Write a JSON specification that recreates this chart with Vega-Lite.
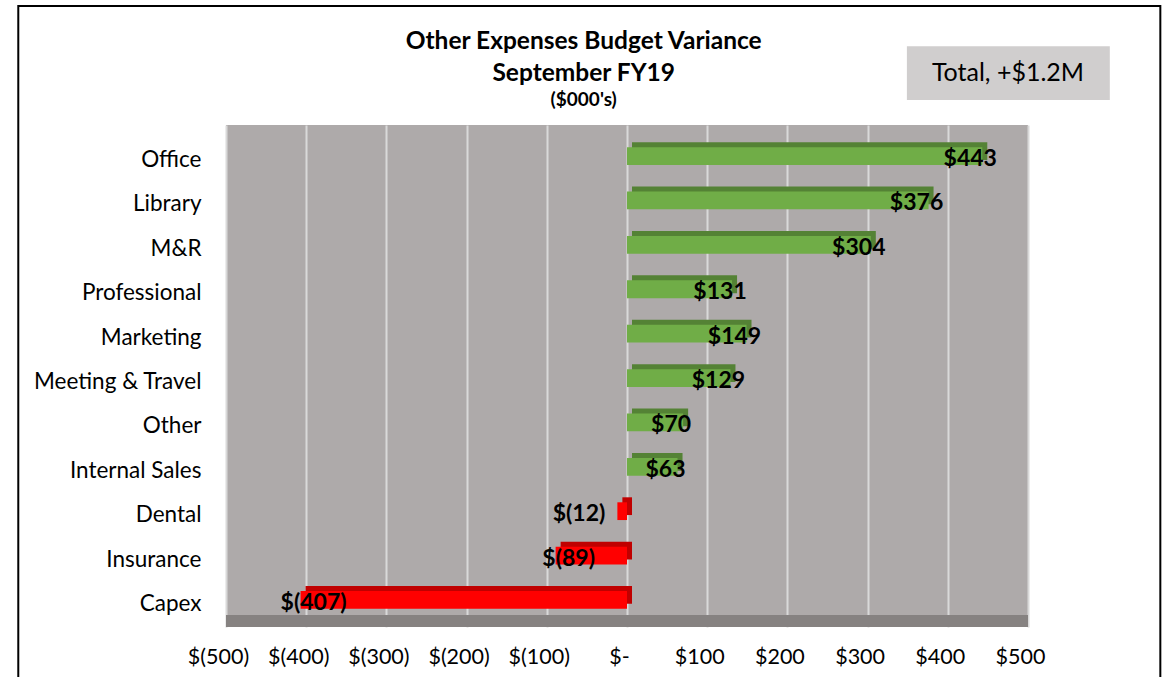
{
  "$schema": "https://vega.github.io/schema/vega-lite/v6.json",
  "width": 802,
  "height": 502,
  "autosize": {"type": "none"},
  "padding": {"left": 226, "top": 125, "right": 143, "bottom": 50},
  "background": "white",
  "config": {"view": {"fill": "#AEAAAA", "stroke": null}, "font": "Lato"},
  "datasets": {
    "bars": [
      {"category": "Office", "value": 443},
      {"category": "Library", "value": 376},
      {"category": "M&R", "value": 304},
      {"category": "Professional", "value": 131},
      {"category": "Marketing", "value": 149},
      {"category": "Meeting & Travel", "value": 129},
      {"category": "Other", "value": 70},
      {"category": "Internal Sales", "value": 63},
      {"category": "Dental", "value": -12},
      {"category": "Insurance", "value": -89},
      {"category": "Capex", "value": -407}
    ]
  },
  "layer": [
    {
      "data": {"values": [{}]},
      "mark": {"type": "rect", "color": "#868281"},
      "encoding": {
        "x": {"datum": -500, "type": "quantitative"},
        "x2": {"datum": 500},
        "y": {"datum": 0, "type": "quantitative", "scale": {"domain": [0, 1], "nice": false}, "axis": null},
        "y2": {"datum": 0.024}
      }
    },
    {
      "data": {"name": "bars"},
      "encoding": {
        "y": {
          "field": "category",
          "type": "nominal",
          "sort": null,
          "scale": {"paddingInner": 0.6, "paddingOuter": 0.455, "align": 0.55},
          "axis": {
            "title": null,
            "domain": false,
            "ticks": false,
            "grid": false,
            "labelFont": "Lato",
            "labelFontSize": 22.5,
            "labelColor": "black",
            "labelPadding": 25,
            "labelOffset": 4
          }
        }
      },
      "layer": [
        {
          "mark": {"type": "bar", "xOffset": 5, "yOffset": -5},
          "encoding": {
            "x": {
              "field": "value",
              "type": "quantitative",
              "scale": {"domain": [-500, 500], "nice": false},
              "axis": {
                "title": null,
                "values": [-500, -400, -300, -200, -100, 0, 100, 200, 300, 400, 500],
                "labelExpr": "datum.value < 0 ? '$(' + abs(datum.value) + ')' : (datum.value == 0 ? '$-' : '$' + datum.value)",
                "domain": false,
                "ticks": false,
                "grid": true,
                "gridColor": "#D9D9D9",
                "gridWidth": 2,
                "labelFont": "Lato",
                "labelFontSize": 21.5,
                "labelColor": "black",
                "labelPadding": 19,
                "labelOffset": -8,
                "labelFlush": false
              }
            },
            "color": {"condition": {"test": "datum.value < 0", "value": "#C00000"}, "value": "#548235"}
          }
        },
        {
          "mark": {"type": "bar"},
          "encoding": {
            "x": {"field": "value", "type": "quantitative"},
            "color": {"condition": {"test": "datum.value < 0", "value": "#FF0000"}, "value": "#70AD47"}
          }
        },
        {
          "transform": [{"filter": "datum.value > 0"}, {"calculate": "'$' + datum.value", "as": "label"}],
          "mark": {"type": "text", "fontSize": 23, "fontWeight": "bold", "font": "Lato", "color": "black", "align": "center", "baseline": "middle", "dx": -12, "dy": 3},
          "encoding": {
            "x": {"field": "value", "type": "quantitative"},
            "text": {"field": "label"}
          }
        },
        {
          "transform": [{"filter": "datum.value < -50"}, {"calculate": "'$(' + abs(datum.value) + ')'", "as": "label"}],
          "mark": {"type": "text", "fontSize": 23, "fontWeight": "bold", "font": "Lato", "color": "black", "align": "center", "baseline": "middle", "dx": 13, "dy": 3},
          "encoding": {
            "x": {"field": "value", "type": "quantitative"},
            "text": {"field": "label"}
          }
        },
        {
          "transform": [{"filter": "datum.value < 0 && datum.value >= -50"}, {"calculate": "'$(' + abs(datum.value) + ')'", "as": "label"}],
          "mark": {"type": "text", "fontSize": 23, "fontWeight": "bold", "font": "Lato", "color": "black", "align": "right", "baseline": "middle", "dx": -12, "dy": 3},
          "encoding": {
            "x": {"field": "value", "type": "quantitative"},
            "text": {"field": "label"}
          }
        }
      ]
    },
    {
      "data": {"values": [{}]},
      "mark": {"type": "rect", "color": "#D0CECE"},
      "encoding": {
        "x": {"datum": 349, "type": "quantitative"},
        "x2": {"datum": 602},
        "y": {"datum": 1.05, "type": "quantitative", "scale": {"domain": [0, 1], "nice": false}, "axis": null},
        "y2": {"datum": 1.157}
      }
    },
    {
      "data": {"values": [{"label": "Total, +$1.2M"}]},
      "mark": {"type": "text", "fontSize": 25, "font": "Lato", "color": "black", "align": "center", "baseline": "middle"},
      "encoding": {
        "x": {"datum": 475, "type": "quantitative"},
        "y": {"datum": 1.104, "type": "quantitative", "scale": {"domain": [0, 1], "nice": false}, "axis": null},
        "text": {"field": "label"}
      }
    },
    {
      "data": {"values": [{"label": "Other Expenses Budget Variance"}]},
      "mark": {"type": "text", "fontSize": 24.5, "fontWeight": "bold", "font": "Lato", "color": "black", "align": "center", "baseline": "middle"},
      "encoding": {
        "x": {"datum": -54, "type": "quantitative"},
        "y": {"datum": 1.165, "type": "quantitative", "scale": {"domain": [0, 1], "nice": false}, "axis": null},
        "text": {"field": "label"}
      }
    },
    {
      "data": {"values": [{"label": "September FY19"}]},
      "mark": {"type": "text", "fontSize": 24.5, "fontWeight": "bold", "font": "Lato", "color": "black", "align": "center", "baseline": "middle"},
      "encoding": {
        "x": {"datum": -54, "type": "quantitative"},
        "y": {"datum": 1.102, "type": "quantitative", "scale": {"domain": [0, 1], "nice": false}, "axis": null},
        "text": {"field": "label"}
      }
    },
    {
      "data": {"values": [{"label": "($000's)"}]},
      "mark": {"type": "text", "fontSize": 19, "fontWeight": "bold", "font": "Lato", "color": "black", "align": "center", "baseline": "middle"},
      "encoding": {
        "x": {"datum": -54, "type": "quantitative"},
        "y": {"datum": 1.05, "type": "quantitative", "scale": {"domain": [0, 1], "nice": false}, "axis": null},
        "text": {"field": "label"}
      }
    },
    {
      "data": {"values": [{}]},
      "mark": {"type": "rect", "fill": null, "fillOpacity": 0, "stroke": "black", "strokeWidth": 2},
      "encoding": {
        "x": {"datum": -759, "type": "quantitative"},
        "x2": {"datum": 665},
        "y": {"datum": 1.237, "type": "quantitative", "scale": {"domain": [0, 1], "nice": false}, "axis": null},
        "y2": {"datum": -0.2}
      }
    }
  ],
  "resolve": {"scale": {"y": "independent"}}
}
